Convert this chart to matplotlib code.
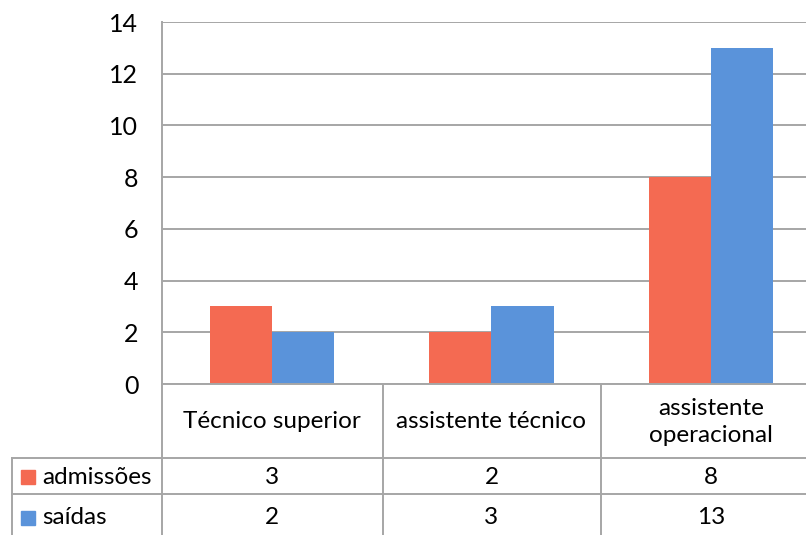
import matplotlib
matplotlib.use('Agg')
import matplotlib.pyplot as plt
from matplotlib.lines import Line2D
from matplotlib.patches import Rectangle
import numpy as np

categories = ['Técnico superior', 'assistente técnico', 'assistente\noperacional']
series_names = ['admissões', 'saídas']
admissoes = [3, 2, 8]
saidas = [2, 3, 13]
yticks = [0, 2, 4, 6, 8, 10, 12, 14]

colors = ['#F46A52', '#5A93DA']
grid_color = '#A6A6A6'
W, H = 806, 535


def fx(px):
    return px / W


def fy(py):
    return 1 - py / H


plt.rcParams['font.family'] = ['Lato', 'DejaVu Sans']

fig = plt.figure(figsize=(W / 100, H / 100), dpi=100)
# plot area: left edge at 162px, y=0 at 384px, y=14 at 22px, last column runs past the right edge
ax = fig.add_axes([fx(162), fy(384), fx(821) - fx(162), fy(22) - fy(384)])

x = np.arange(len(categories))
bw = 0.283
ax.bar(x - bw / 2, admissoes, bw, color=colors[0], zorder=3)
ax.bar(x + bw / 2, saidas, bw, color=colors[1], zorder=3)

ax.set_xlim(-0.5, len(categories) - 0.5)
ax.set_ylim(0, 14)
ax.set_yticks(yticks)
ax.set_yticklabels([str(v) for v in yticks], fontsize=18)
ax.tick_params(axis='y', length=0, pad=17)
ax.set_xticks([])
ax.grid(True, axis='y', color=grid_color, linewidth=1.4, zorder=0)
for side in ['top', 'right', 'bottom']:
    ax.spines[side].set_visible(False)
ax.spines['left'].set_color(grid_color)
ax.spines['left'].set_linewidth(1.4)

# data table under the plot
lw = 1.4
fs = 17.5
header_bottom, row1_bottom = 458, 494
col_edges = [162, 383, 601, 821]
for px in col_edges:
    fig.add_artist(Line2D([fx(px), fx(px)], [fy(384), fy(540)], color=grid_color, lw=lw))
fig.add_artist(Line2D([fx(12), fx(12)], [fy(header_bottom), fy(540)], color=grid_color, lw=lw))
fig.add_artist(Line2D([fx(162), fx(821)], [fy(384), fy(384)], color=grid_color, lw=lw))
for py in [header_bottom, row1_bottom]:
    fig.add_artist(Line2D([fx(12), fx(821)], [fy(py), fy(py)], color=grid_color, lw=lw))

trans = ax.get_xaxis_transform()
for i, cat in enumerate(categories):
    ax.text(i, (384 - 422) / 362, cat, transform=trans, ha='center', va='center',
            fontsize=fs, clip_on=False, linespacing=1.4)

row_centers = [477, 518]
for r, (name, vals) in enumerate(zip(series_names, [admissoes, saidas])):
    yc = fy(row_centers[r])
    fig.add_artist(Rectangle((fx(21), yc - 7 / H), 14 / W, 14 / H,
                             transform=fig.transFigure, color=colors[r]))
    fig.text(fx(42), yc, name, ha='left', va='center', fontsize=fs)
    for i, v in enumerate(vals):
        ax.text(i, (384 - row_centers[r]) / 362, str(v), transform=trans,
                ha='center', va='center', fontsize=fs, clip_on=False)

fig.savefig('out.png', dpi=100)
